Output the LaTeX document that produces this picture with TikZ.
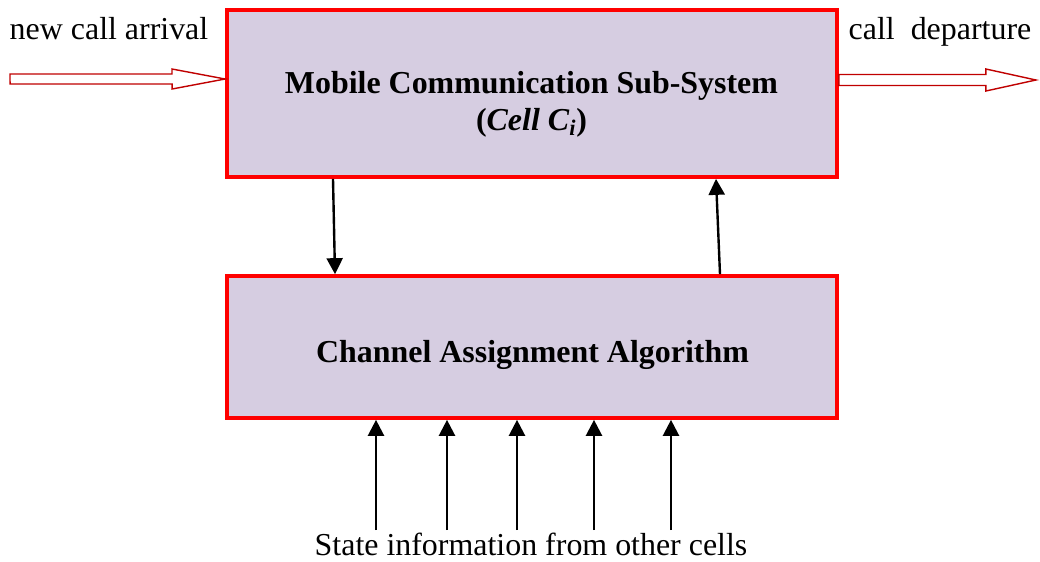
\documentclass[tikz,border=0pt]{standalone}
\usepackage{fontspec}
\setmainfont{Liberation Serif}
\usetikzlibrary{arrows.meta}
\definecolor{boxfill}{RGB}{214,205,225}
\definecolor{flowred}{RGB}{192,0,0}
\tikzset{
  block/.style={draw=red, line width=2.6pt, fill=boxfill, minimum width=15.25cm},
  head/.style={font=\bfseries\fontsize{22.7}{27}\selectfont, anchor=base, inner sep=0pt},
  lbl/.style={font=\fontsize{22.7}{27}\selectfont, anchor=base, inner sep=0pt},
  flow/.style={draw=flowred, line width=1pt, fill=white, line join=miter},
  sig/.style={-{Triangle[length=0.4cm,width=0.4cm]}, line width=1.7pt}
}

\begin{document}
\begin{tikzpicture}[x=0.025cm,y=-0.025cm]
\useasboundingbox (0,0) rectangle (1040,561);

% the two blocks
\node[block, minimum height=4.175cm] (mcs) at (532,93.5) {};
\node[block, minimum height=3.55cm] (caa) at (532,347) {};
\node[head] (mcstxt) at (531.5,93) {Mobile Communication Sub-System};
\node[head] (celltxt) at (531.5,130) {(\textit{Cell C}\textsubscript{\textit{i}})};
\node[head] (caatxt) at (532.5,362) {Channel Assignment Algorithm};

% labels
\node[lbl] (arr) at (109,39.5) {new call arrival};
\node[lbl] (dep) at (940,39.5) {call\ \ departure};
\node[lbl] (state) at (531,555) {State information from other cells};

% call arrival and departure
\coordinate (in) at (10,79);
\coordinate (out) at (mcs.east |- 0,80);
\draw[flow] (in) -- ++(0,-5) -- ++(162,0) -- ++(0,-5) -- (mcs.west |- in)
  -- ++(-53,10) -- ++(0,-5) -- ++(-162,0) -- cycle;
\draw[flow] (out) -- ++(0,-5.5) -- ++(147,0) -- ++(0,-5.5) -- ++(50,11)
  -- ++(-50,11) -- ++(0,-5.5) -- ++(-147,0) -- cycle;

% between the blocks
\draw[sig] (mcs.south -| 333,0) -- (caa.north -| 335,0);
\draw[sig] (caa.north -| 720,0) -- (mcs.south -| 716,0);

% state information
\foreach \i/\x in {1/376,2/447,3/517,4/594,5/671}{
  \coordinate (s\i) at (\x,530);
  \draw[sig] (s\i) -- (caa.south -| s\i);
}
\end{tikzpicture}
\end{document}
